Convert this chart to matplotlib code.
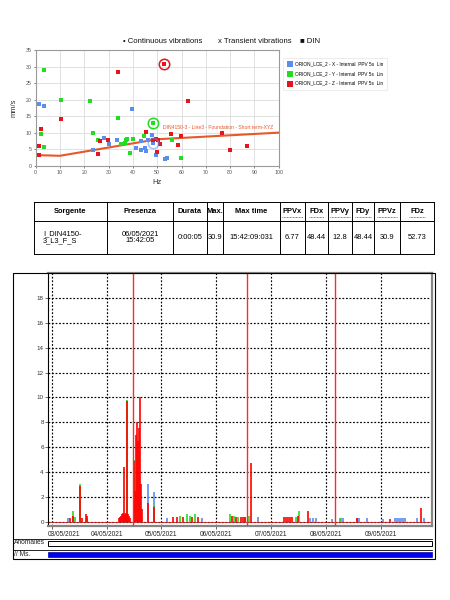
import matplotlib
matplotlib.use('Agg')
import matplotlib.pyplot as plt
from matplotlib.patches import Rectangle
from matplotlib.transforms import ScaledTranslation

plt.rcParams['font.family'] = ['Liberation Sans', 'DejaVu Sans']

# ---------------- data: scatter (Hz vs mm/s) ----------------
blue_hz = [1.4, 3.6, 23.4, 28.1, 30.3, 33.3, 39.6, 41.2, 43.2, 43.4, 45.1, 45.3, 46.2, 47.7, 48.44, 49.7, 53.2, 54.1]
blue_ppv = [18.6, 18.0, 4.9, 8.5, 6.5, 7.9, 17.1, 5.5, 4.7, 7.5, 5.5, 4.5, 7.9, 9.4, 6.77, 3.1, 2.1, 2.4]
green_hz = [2.1, 3.4, 3.4, 10.4, 22.3, 23.7, 25.8, 34.0, 35.3, 36.6, 37.1, 37.7, 38.8, 40.1, 44.7, 48.44, 56.1, 59.6]
green_ppv = [9.6, 29.1, 5.7, 20.0, 19.5, 10.0, 7.7, 14.3, 6.5, 6.9, 7.7, 8.2, 3.7, 8.1, 9.1, 12.8, 7.7, 2.4]
red_hz = [1.2, 1.5, 2.3, 10.4, 25.8, 26.4, 29.7, 33.8, 45.3, 48.1, 49.5, 50.0, 50.3, 51.1, 52.73,
          55.7, 58.6, 59.9, 62.5, 76.7, 80.1, 87.0]
red_ppv = [3.3, 6.1, 11.0, 14.1, 3.6, 7.5, 7.7, 28.2, 10.1, 7.9, 8.2, 4.2, 7.7, 6.5, 30.9,
           9.5, 6.2, 8.9, 19.6, 9.8, 4.9, 5.9]
peak_hz = [48.44, 48.44, 52.73]
peak_ppv = [6.77, 12.8, 30.9]
din_hz = [0, 10, 50, 100]
din_ppv = [3.2, 3.0, 8.0, 10.0]
legend_labels = ["ORION_LCE_2 - X - Internal  PPV 5s  Lin",
                 "ORION_LCE_2 - Y - Internal  PPV 5s  Lin",
                 "ORION_LCE_2 - Z - Internal  PPV 5s  Lin"]
din_label = "DIN4150-3 - Line3 - Foundation - Short term-XYZ"

# ---------------- data: table ----------------
table_cols = ["Sorgente", "Presenza", "Durata", "Max.", "Max time", "PPVx", "FDx", "PPVy", "FDy", "PPVz", "FDz"]
table_row = ["I_DIN4150-\n3_L3_F_S", "06/05/2021\n15:42:05", "0:00:05", "30.9", "15:42:09:031",
             "6.77", "48.44", "12.8", "48.44", "30.9", "52.73"]

# ---------------- data: time history (day of May 2021, mm/s) ----------------
t_X = [3.297, 4.335, 4.754, 4.863, 5.10, 5.73, 6.759, 7.705, 7.76, 7.815, 8.10, 8.251, 8.306, 8.556,
       8.598, 8.738, 9.04, 9.253, 9.29, 9.326, 9.363, 9.399, 9.435, 9.649, 9.787]
v_X = [0.3, 0.5, 3.0, 2.4, 0.3, 0.3, 0.35, 0.3, 0.3, 0.3, 0.2, 0.3, 0.3, 0.3,
       0.3, 0.3, 0.2, 0.3, 0.3, 0.3, 0.3, 0.3, 0.3, 0.3, 0.3]
t_Y = [3.383, 3.424, 3.515, 3.652, 4.366, 4.505, 4.863, 5.337, 5.459, 5.519, 5.61, 6.248, 6.321,
       6.393, 6.521, 6.594, 7.45, 7.51, 8.28]
v_Y = [0.85, 0.4, 3.0, 0.3, 9.8, 5.0, 1.3, 0.5, 0.6, 0.5, 0.6, 0.6, 0.5,
       0.4, 0.4, 0.5, 0.4, 0.9, 0.3]
t_Z = [3.333, 3.383, 3.515, 3.55, 3.625, 3.652,
       4.226, 4.244, 4.262, 4.281, 4.299, 4.317, 4.335, 4.353, 4.366, 4.39, 4.408, 4.426,
       4.505, 4.517, 4.536, 4.554, 4.572, 4.59, 4.608, 4.627, 4.645,
       4.754, 4.863,
       5.215, 5.277, 5.397, 5.55, 5.659,
       6.284, 6.357, 6.448, 6.484, 6.521, 6.625,
       7.231, 7.268, 7.304, 7.341, 7.377, 7.486, 7.663,
       8.556, 9.162, 9.721]
v_Z = [0.3, 0.5, 2.9, 0.3, 0.6, 0.5,
       0.3, 0.4, 0.5, 0.6, 0.7, 4.4, 0.6, 0.7, 9.7, 0.6, 0.5, 0.3,
       4.9, 2.5, 7.0, 8.0, 6.5, 7.5, 10.0, 3.0, 1.0,
       1.5, 1.2,
       0.4, 0.4, 0.4, 0.4, 0.4,
       0.5, 0.4, 0.4, 0.4, 0.4, 4.7,
       0.4, 0.4, 0.4, 0.4, 0.4, 0.5, 0.9,
       0.3, 0.2, 1.1]
event_days = [4.486, 6.563, 8.160]
day_ticks = [3, 4, 5, 6, 7, 8, 9]
day_labels = ["03/05/2021", "04/05/2021", "05/05/2021", "06/05/2021", "07/05/2021", "08/05/2021", "09/05/2021"]

BLUE = '#5b8dea'
GREEN = '#22dd22'
RED = '#e8141b'
DIN_C = '#e8572a'

W, H = 450, 600
fig = plt.figure(figsize=(4.5, 6), dpi=100)


def ax_px(l, t, r, b):
    return fig.add_axes([l / W, 1 - b / H, (r - l) / W, (b - t) / H])


# ---------------- scatter ----------------
ax1 = ax_px(35.7, 50, 278.7, 165.7)
ax1.set_xlim(0, 100)
ax1.set_ylim(0, 35)
ax1.set_xticks(range(0, 101, 10))
ax1.set_yticks(range(0, 36, 5))
ax1.grid(True, color='#dcdcdc', lw=0.6)
ax1.set_axisbelow(True)
for s in ax1.spines.values():
    s.set_color('#9a9a9a')
    s.set_linewidth(0.8)
ax1.tick_params(labelsize=3.8, colors='#555555', length=1.5, width=0.5, pad=1.5)
ax1.set_xlabel('Hz', fontsize=5.5, labelpad=3, color='#333333')
ax1.set_ylabel('mm/s', fontsize=5.5, labelpad=6, color='#333333')
ax1.plot(din_hz, din_ppv, color=DIN_C, lw=1.5, zorder=2)
hb = ax1.scatter(blue_hz, blue_ppv, marker='s', s=7, color=BLUE, zorder=3, label=legend_labels[0], linewidths=0)
hg = ax1.scatter(green_hz, green_ppv, marker='s', s=7, color=GREEN, zorder=3, label=legend_labels[1], linewidths=0)
hr = ax1.scatter(red_hz, red_ppv, marker='s', s=7, color=RED, zorder=3, label=legend_labels[2], linewidths=0)
for hz, v, c, a in zip(peak_hz, peak_ppv, [BLUE, GREEN, RED], [0.55, 1, 1]):
    ax1.plot([hz], [v], marker='o', ms=7.5, mfc='none', mec=c, mew=1.1, alpha=a, zorder=4)
ax1.text(52.3, 11.5, din_label, fontsize=3.6, color=DIN_C, va='center', ha='left', zorder=5)
leg = ax1.legend(handles=[hb, hg, hr], loc='upper left', bbox_to_anchor=(1.01, 0.955),
                 fontsize=3.4, frameon=True, edgecolor='#dddddd', fancybox=False,
                 handlelength=1.0, handletextpad=0.6, borderpad=0.8, labelspacing=1.0,
                 markerscale=1.9)
leg.get_frame().set_linewidth(0.5)

# ---------------- time history ----------------
ax2 = ax_px(48, 273, 432, 526)
ax2.set_xlim(2.933, 9.93)
ax2.set_ylim(-0.34, 20.0)
ax2.set_yticks(range(0, 19, 2))
ax2.set_xticks(day_ticks)
ax2.set_xticklabels(day_labels)
ax2.grid(True, color='black', lw=0.85, linestyle=(0, (1.5, 1.5)))
ax2.set_axisbelow(True)
ax2.tick_params(axis='y', labelsize=4.5, colors='#333333', length=2, width=0.5, pad=1)
ax2.tick_params(axis='x', labelsize=4.7, colors='#222222', length=2, width=0.5, pad=1.5)
ax2.spines['left'].set_color('black')
ax2.spines['left'].set_linewidth(0.8)
for k in ['top', 'right', 'bottom']:
    ax2.spines[k].set_color('#858585')
    ax2.spines[k].set_linewidth(1.6)
lab0 = ax2.get_xticklabels()[0]
lab0.set_horizontalalignment('left')
lab0.set_transform(lab0.get_transform() + ScaledTranslation(-4 / 100, 0, fig.dpi_scale_trans))
ax2.axhline(0, color='#c02020', lw=0.6, zorder=2)
ax2.vlines(t_X, 0, v_X, color=BLUE, lw=1.2, zorder=3)
ax2.vlines(t_Y, 0, v_Y, color=GREEN, lw=1.2, zorder=3)
ax2.vlines(t_Z, 0, v_Z, color='#ff0000', lw=1.2, zorder=3)
for d in event_days:
    ax2.axvline(d, color='#ff2a2a', lw=1.0, zorder=4)

# ---------------- overlay (headers, table, frames) ----------------
ov = fig.add_axes([0, 0, 1, 1])
ov.set_xlim(0, W)
ov.set_ylim(H, 0)
ov.axis('off')
ov.patch.set_alpha(0)

ov.text(123, 41.5, '\u2022 Continuous vibrations', fontsize=5.6, va='center', ha='left', color='#111111')
ov.text(218, 41.5, 'x Transient vibrations', fontsize=5.6, va='center', ha='left', color='#111111')
ov.text(300, 41.5, '\u25a0 DIN', fontsize=5.6, va='center', ha='left', color='#111111')

# table
col_x = [34, 107, 173, 207, 223, 280, 305, 328, 352, 374, 400, 434]
row_y = [202, 221, 254]
for x in col_x:
    ov.plot([x, x], [row_y[0], row_y[-1]], color='black', lw=0.7)
for y in row_y:
    ov.plot([col_x[0], col_x[-1]], [y, y], color='black', lw=0.7)
for i, (c, v) in enumerate(zip(table_cols, table_row)):
    xc = (col_x[i] + col_x[i + 1]) / 2
    ov.text(xc, (row_y[0] + row_y[1]) / 2, c, fontsize=5.4, fontweight='bold', ha='center', va='center')
    if i == 0:
        ov.text(col_x[0] + 9, (row_y[1] + row_y[2]) / 2, v, fontsize=5.4, ha='left', va='center',
                linespacing=1.0)
    else:
        ov.text(xc, (row_y[1] + row_y[2]) / 2, v, fontsize=5.4, ha='center', va='center', linespacing=1.0)
    if i >= 5:
        hw = len(c) * 2.6
        ov.plot([xc - hw, xc + hw], [216.5, 216.5], color='#e02020', lw=0.6, linestyle=(0, (1, 0.8)))

# bottom frame
ov.add_patch(Rectangle((13, 272.5), 422, 286.5, fill=False, ec='black', lw=0.8))
ov.plot([13, 432], [539, 539], color='black', lw=0.6)
ov.plot([13, 432], [549.5, 549.5], color='black', lw=0.6)
ov.add_patch(Rectangle((48, 540.5), 384, 5, fc='white', ec='black', lw=0.7))
ov.add_patch(Rectangle((48, 551.5), 384, 5.5, fc='#0000ee', ec='#0000aa', lw=0.5))
ov.text(14, 543, 'Anomalies', fontsize=4.8, va='center', ha='left', color='#222222')
ov.text(14, 554, '// Ms.', fontsize=4.8, va='center', ha='left', color='#222222')

fig.savefig('out.png', dpi=100)
